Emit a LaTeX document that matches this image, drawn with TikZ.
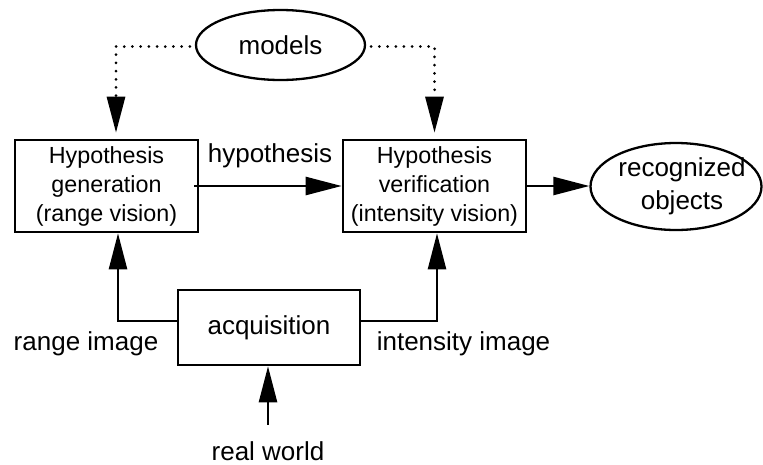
\documentclass[tikz,border=0pt]{standalone}
\usepackage{fontspec}
\setmainfont{Liberation Sans}
\usetikzlibrary{arrows.meta,shapes.geometric}
\begin{document}
\begin{tikzpicture}[x=1pt,y=-1pt,
  box/.style={draw,line width=2.6pt,inner sep=0pt,align=center,font=\fontsize{23.3}{29}\selectfont},
  oval/.style={draw,ellipse,line width=2.3pt,inner sep=0pt,font=\fontsize{26}{31}\selectfont},
  lbl/.style={font=\fontsize{26}{31}\selectfont,inner sep=0pt,anchor=base},
  conn/.style={line width=2.5pt,-{Triangle[length=36pt,width=18pt]}},
  dots/.style={line width=3pt,line cap=round,dash pattern=on 0pt off 8.2pt,-{Triangle[length=36pt,width=18pt,sep=6pt]}}]
\useasboundingbox (0,0) rectangle (763,464);

\node[box,minimum width=183pt,minimum height=92pt] (gen) at (106.5,186) {Hypothesis\\generation\\(range vision)};
\node[box,minimum width=183pt,minimum height=92pt] (ver) at (434.5,186) {Hypothesis\\verification\\(intensity vision)};
\node[box,minimum width=182pt,minimum height=75pt,font=\fontsize{26}{31}\selectfont] (acq) at (269,327.5) {acquisition};
\node[oval,minimum width=169pt,minimum height=70pt] (models) at (280.5,45) {models};
\node[oval,minimum width=171pt,minimum height=87pt] (obj) at (676,186.5) {};
\node[inner sep=0pt,align=center,font=\fontsize{26}{33}\selectfont] (objtext) at ([xshift=6pt]obj.center) {recognized\\objects};

\node[lbl] (hyp) at (270,162) {hypothesis};
\node[lbl] (rimg) at (86,350) {range image};
\node[lbl] (iimg) at (463.5,350) {intensity image};
\node[lbl] (rw) at (268,460) {real world};

\draw[dots] ([xshift=-5pt,yshift=-1.5pt]models.west) -| ([xshift=9.5pt]gen.north);
\draw[dots] ([xshift=5pt,yshift=-1.5pt]models.east) -| (ver.north);
\draw[conn] ([xshift=-5pt]gen.east) -- (ver.west);
\draw[conn] (ver.east) -- (ver.east -| obj.west);
\draw[conn] ([yshift=6.5pt]acq.west) -| ([xshift=11.5pt]gen.south);
\draw[conn] ([yshift=6.5pt]acq.east) -| ([xshift=2.5pt]ver.south);
\draw[conn] ([yshift=16pt]rw.north) -- (rw.north |- acq.south);
\end{tikzpicture}
\end{document}
